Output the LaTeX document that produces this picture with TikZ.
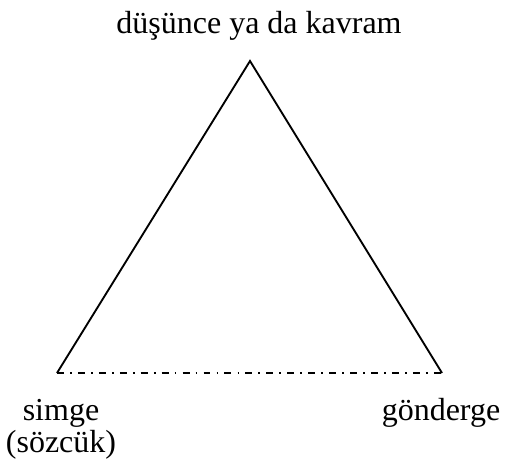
\documentclass[tikz,border=0pt]{standalone}
\usepackage{fontspec}
\setmainfont{Liberation Serif}
\usetikzlibrary{positioning}

\begin{document}
\begin{tikzpicture}[x=0.75pt, y=-0.75pt,
    side/.style={black, line width=1.4pt, line join=miter},
    dashdot/.style={black, line width=1.4pt, dash pattern=on 5.2pt off 4.6pt on 1.3pt off 4.6pt},
    label/.style={font=\fontsize{24pt}{24pt}\selectfont, inner sep=0pt, anchor=base, align=center}]
    \useasboundingbox (0,0) rectangle (505,464);

    % corners of the triangle
    \coordinate (kavram) at (250,61);
    \coordinate (simge) at (57,373);
    \coordinate (gonderge) at (442,373);

    % sides
    \draw[side] (simge) -- (kavram) -- (gonderge);
    \draw[dashdot] (simge) -- (gonderge);

    % labels
    \node[label] (kavramtext) at (259,33) {düşünce ya da kavram};
    \node[label] (simgetext) at (61,452) {simge\\(sözcük)};
    \node[label] (gondergetext) at (441,420) {gönderge};
\end{tikzpicture}
\end{document}
